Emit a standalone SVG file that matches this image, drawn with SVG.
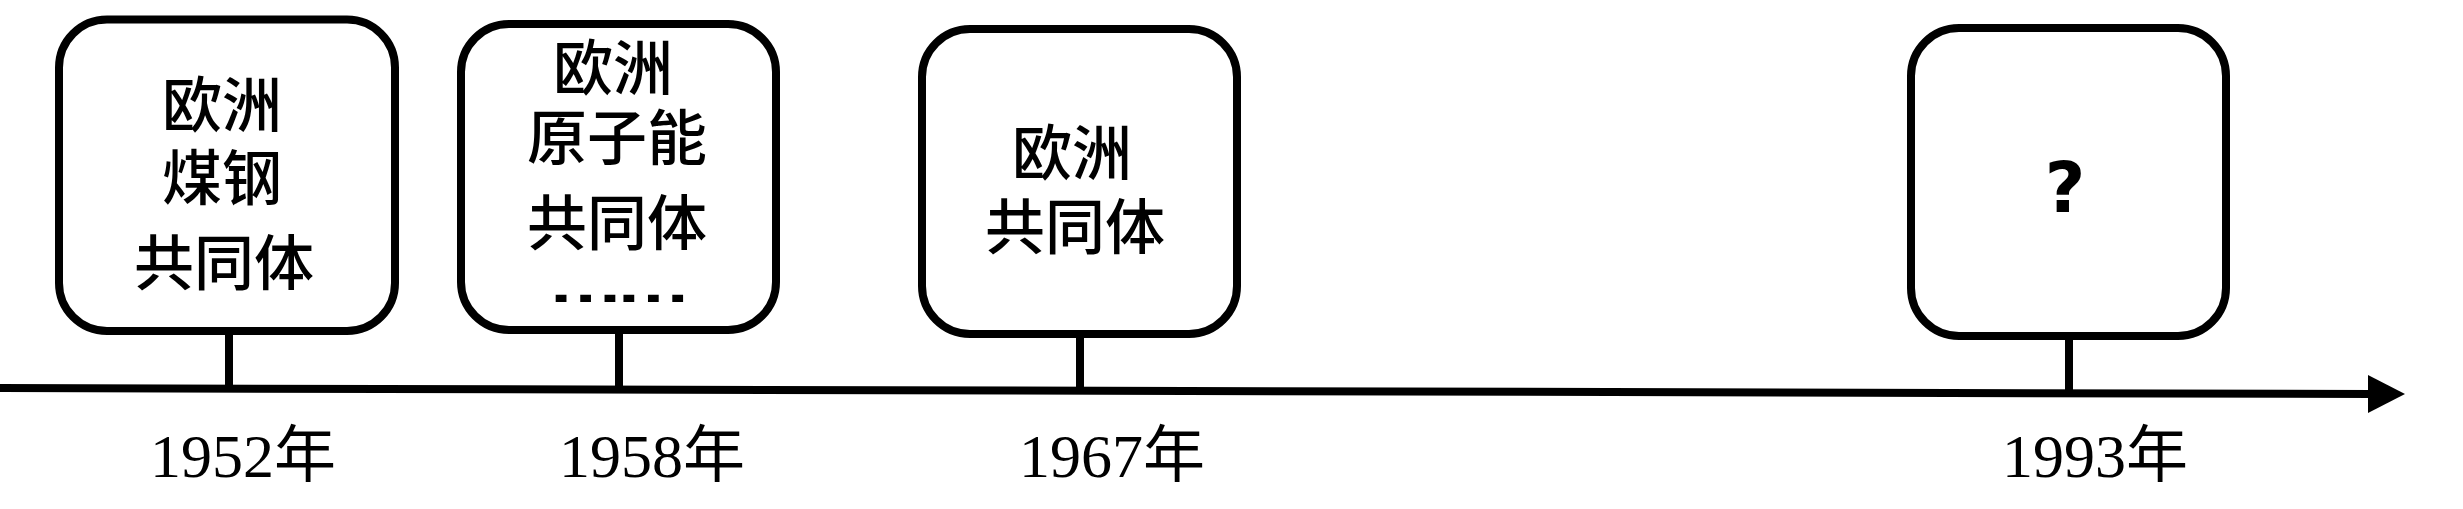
<svg xmlns="http://www.w3.org/2000/svg" width="2463" height="509" viewBox="0 0 2463 509">
  <style>
    .box { fill: #ffffff; stroke: #000000; stroke-width: 8; }
    .stem { stroke: #000000; stroke-width: 8; fill: none; }
    .axis { stroke: #000000; stroke-width: 8; fill: none; }
    .lbl { font-family: "Liberation Sans", "Noto Sans CJK SC", sans-serif; font-size: 60px; font-weight: 500; fill: #000000; text-anchor: middle; }
    .dots { font-family: "Liberation Sans", "Noto Sans CJK SC", sans-serif; font-size: 48px; font-weight: bold; fill: #000000; text-anchor: middle; letter-spacing: -5.6px; }
    .q { font-family: "DejaVu Sans", sans-serif; font-size: 70px; font-weight: bold; fill: #000000; text-anchor: middle; }
    .year { font-family: "Liberation Serif", "Noto Sans CJK SC", serif; font-size: 62px; fill: #000000; text-anchor: middle; }
  </style>
  <rect width="2463" height="509" fill="#ffffff"/>
  <g id="connectors">
    <line class="axis" x1="0" y1="388" x2="2372" y2="394"/>
    <polygon points="2368,375 2405,394 2368,413" fill="#000000"/>
    <line class="stem" x1="229" y1="331" x2="229" y2="390"/>
    <line class="stem" x1="619" y1="330" x2="619" y2="391"/>
    <line class="stem" x1="1080" y1="334" x2="1080" y2="392"/>
    <line class="stem" x1="2069" y1="336" x2="2069" y2="394"/>
  </g>
  <g id="node-1952">
    <rect class="box" x="59" y="19.5" width="336" height="311.5" rx="48" ry="48"/>
    <text class="lbl" x="222" y="127">欧洲</text>
    <text class="lbl" x="222" y="200">煤钢</text>
    <text class="lbl" x="224" y="285">共同体</text>
    <text class="year" x="243" y="477">1952年</text>
  </g>
  <g id="node-1958">
    <rect class="box" x="461" y="24" width="315" height="306" rx="48" ry="48"/>
    <text class="lbl" x="613" y="90">欧洲</text>
    <text class="lbl" x="617" y="160">原子能</text>
    <text class="lbl" x="617" y="245">共同体</text>
    <text class="dots" transform="translate(615,302) scale(1.6,1)" x="0" y="0">……</text>
    <text class="year" x="652" y="477">1958年</text>
  </g>
  <g id="node-1967">
    <rect class="box" x="922" y="29" width="315" height="305" rx="48" ry="48"/>
    <text class="lbl" x="1072" y="175">欧洲</text>
    <text class="lbl" x="1075" y="249">共同体</text>
    <text class="year" x="1112" y="477">1967年</text>
  </g>
  <g id="node-1993">
    <rect class="box" x="1911" y="28" width="315" height="308" rx="48" ry="48"/>
    <text class="q" x="2065" y="212">?</text>
    <text class="year" x="2095" y="477">1993年</text>
  </g>
</svg>
